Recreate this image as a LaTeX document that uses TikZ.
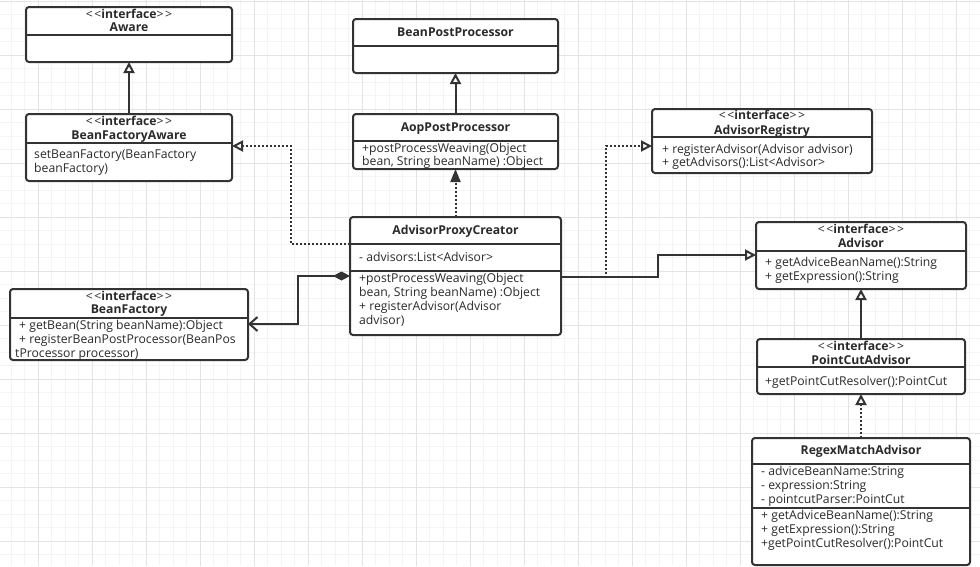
\documentclass[tikz,border=0pt]{standalone}
\usepackage{fontspec}
\setmainfont{Open Sans}
\usetikzlibrary{arrows.meta}
\definecolor{lc}{HTML}{333333}
\definecolor{tc}{HTML}{2A2A2A}
\definecolor{gmaj}{HTML}{E3E3E3}
\definecolor{gmin}{HTML}{F4F4F4}
\newcommand\iface{<\hspace{1.5pt}<\textbf{interface}>\hspace{1.5pt}>}
\newcommand\ubox[5]{\node[box, minimum width={(#4-#2)*1pt}, minimum height={(#5-#3)*1pt}] (#1) at (#2,#3) {};}
\begin{document}
\begin{tikzpicture}[x=1pt,y=-1pt,
  box/.style={draw=lc, line width=2pt, rounded corners=3pt, fill=white, anchor=north west, inner sep=0pt, outer sep=0pt},
  sepline/.style={draw=lc, line width=1.5pt},
  txt/.style={font=\fontsize{12.2}{14}\selectfont, text=tc, inner sep=0pt, anchor=west, text height=9pt, text depth=2.7pt},
  ctxt/.style={txt, anchor=center},
  ttl/.style={txt, anchor=center, font=\fontsize{12.2}{14}\selectfont\bfseries},
  gen/.style={draw=lc, line width=2pt, -{Triangle[open, length=11pt, width=11pt]}},
  real/.style={gen, dash pattern=on 2pt off 2pt},
  realf/.style={draw=lc, line width=2pt, dash pattern=on 2pt off 2pt, -{Triangle[length=13pt, width=10pt]}},
  comp/.style={draw=lc, line width=2pt, {Diamond[length=17pt, width=9pt]}-{Straight Barb[length=8pt, width=14pt]}},
  gridmin/.style={draw=gmin, line width=0.8pt},
  gridmaj/.style={draw=gmaj, line width=0.8pt}]
\fill[white] (0,0) rectangle (980,566);
\useasboundingbox (0,0) rectangle (980,566);
% background grid
\foreach \i in {0,...,71} {\draw[gridmin] ({11+13.5*\i},0) -- ({11+13.5*\i},566);}
\foreach \i in {0,...,41} {\draw[gridmin] (0,{1+13.5*\i}) -- (980,{1+13.5*\i});}
\foreach \i in {0,...,17} {\draw[gridmaj] ({38+54*\i},0) -- ({38+54*\i},566);}
\foreach \i in {0,...,10} {\draw[gridmaj] (0,{1+54*\i}) -- (980,{1+54*\i});}

% boxes
\ubox{aware}{26}{7}{232}{62}
\ubox{bfa}{26}{114}{232}{181}
\ubox{bpp}{353}{19}{558}{73}
\ubox{aop}{353}{114}{558}{169}
\ubox{apc}{350}{217}{561}{335}
\ubox{ar}{652}{109}{872}{173}
\ubox{bf}{10}{289}{248}{360}
\ubox{adv}{756}{222}{966}{289}
\ubox{pca}{757}{339}{965}{394}
\ubox{rma}{752}{438}{970}{565}

% dividers
\draw[sepline] (26,35) -- (232,35);
\draw[sepline] (26,143) -- (232,143);
\draw[sepline] (353,46) -- (558,46);
\draw[sepline] (353,141) -- (558,141);
\draw[sepline] (350,244) -- (561,244);
\draw[sepline] (350,271) -- (561,271);
\draw[sepline] (652,137) -- (872,137);
\draw[sepline] (10,318) -- (248,318);
\draw[sepline] (756,251) -- (966,251);
\draw[sepline] (757,367) -- (965,367);
\draw[sepline] (752,464) -- (970,464);
\draw[sepline] (752,508) -- (970,508);

% texts
\node[ctxt] (t1) at (129,15) {\iface};
\node[ttl] (t2) at (129,28) {Aware};
\node[ctxt] (t3) at (129,122) {\iface};
\node[ttl] (t4) at (129,136) {BeanFactoryAware};
\node[txt] (t5) at (34,155) {setBeanFactory(BeanFactory};
\node[txt] (t6) at (34,169) {beanFactory)};
\node[ttl] (t7) at (455.5,33) {BeanPostProcessor};
\node[ttl] (t8) at (455.5,128) {AopPostProcessor};
\node[txt] (t9) at (362,149) {+postProcessWeaving(Object};
\node[txt] (t10) at (362,162) {bean, String beanName) :Object};
\node[ttl] (t11) at (455.5,231) {AdvisorProxyCreator};
\node[txt] (t12) at (359,258) {- advisors:List<Advisor>};
\node[txt] (t13) at (359,279) {+postProcessWeaving(Object};
\node[txt] (t14) at (359,293) {bean, String beanName) :Object};
\node[txt] (t15) at (359,307) {+ registerAdvisor(Advisor};
\node[txt] (t16) at (359,321) {advisor)};
\node[ctxt] (t17) at (762,116) {\iface};
\node[ttl] (t18) at (762,131) {AdvisorRegistry};
\node[txt] (t19) at (662,150) {+ registerAdvisor(Advisor advisor)};
\node[txt] (t20) at (662,163) {+ getAdvisors():List<Advisor>};
\node[ctxt] (t21) at (129,297) {\iface};
\node[ttl] (t22) at (129,310) {BeanFactory};
\node[txt] (t23) at (19,326) {+ getBean(String beanName):Object};
\node[txt] (t24) at (19,340) {+ registerBeanPostProcessor(BeanPos};
\node[txt] (t25) at (15,354) {tProcessor processor)};
\node[ctxt] (t26) at (861,230) {\iface};
\node[ttl] (t27) at (861,244) {Advisor};
\node[txt] (t28) at (765,263) {+ getAdviceBeanName():String};
\node[txt] (t29) at (765,277) {+ getExpression():String};
\node[ctxt] (t30) at (861,347) {\iface};
\node[ttl] (t31) at (861,361) {PointCutAdvisor};
\node[txt] (t32) at (765,382) {+getPointCutResolver():PointCut};
\node[ttl] (t33) at (861,451) {RegexMatchAdvisor};
\node[txt] (t34) at (761,472) {- adviceBeanName:String};
\node[txt] (t35) at (761,486) {- expression:String};
\node[txt] (t36) at (761,500) {- pointcutParser:PointCut};
\node[txt] (t37) at (761,516) {+ getAdviceBeanName():String};
\node[txt] (t38) at (761,530) {+ getExpression():String};
\node[txt] (t39) at (761,544) {+getPointCutResolver():PointCut};

% connectors
\draw[gen] (bfa.north) -- (aware.south);
\draw[gen] (aop.north) -- (bpp.south);
\draw[realf] (apc.north) -- (aop.south);
\coordinate (k1) at (291,244);
\coordinate (k2) at (291,146);
\draw[real] (apc.west |- k1) -- (k1) -- (k2) -- (bfa.east |- k2);
\coordinate (k5) at (658,277);
\coordinate (k6) at (658,255);
\draw[gen] (apc.east |- k5) -- (k5) -- (k6) -- (adv.west |- k6);
\coordinate (k3) at (606,277);
\coordinate (k4) at (606,146);
\draw[real] (apc.east |- k3) -- (k3) -- (k4) -- (ar.west |- k4);
\coordinate (k7) at (298,276);
\coordinate (k8) at (298,324);
\draw[comp] (apc.west |- k7) -- (k7) -- (k8) -- (bf.east |- k8);
\draw[gen] (pca.north) -- (adv.south);
\draw[real] (rma.north) -- (pca.south);
\end{tikzpicture}
\end{document}
